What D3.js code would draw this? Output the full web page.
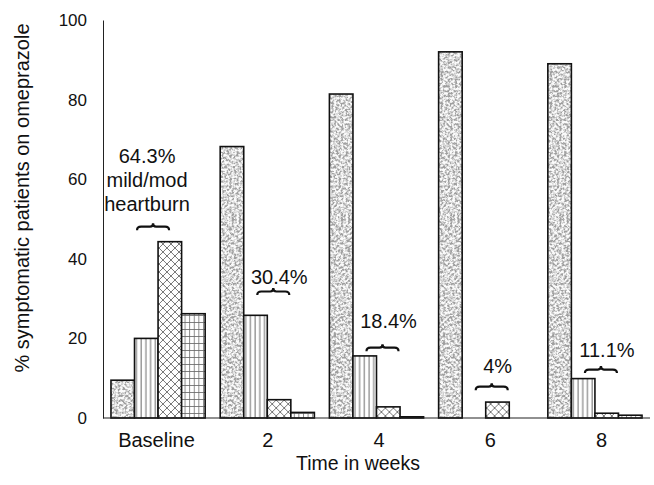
<!DOCTYPE html>
<html>
<head>
<meta charset="utf-8">
<script src="https://cdn.jsdelivr.net/npm/d3@7"></script>
<style>
  body { margin: 0; background: #fff; }
  svg { font-family: "Liberation Sans", Arial, sans-serif; }
</style>
</head>
<body>
<svg id="chart" width="654" height="485"></svg>
<script>
// data
var weeks = ["Baseline", "2", "4", "6", "8"];
var severity = ["none", "mild", "moderate", "severe"];
var noneVals = [9.5, 68.2, 81.4, 92.0, 89.0];
var mildVals = [20.0, 25.8, 15.6, 0, 9.9];
var moderateVals = [44.3, 4.6, 2.8, 4.0, 1.2];
var severeVals = [26.2, 1.4, 0.3, 0, 0.7];
var yTicks = [0, 20, 40, 60, 80, 100];
var noteTexts = [["64.3%", "mild/mod", "heartburn"], ["30.4%"], ["18.4%"], ["4%"], ["11.1%"]];
var braceLevels = [47.2, 30.9, 16.8, 7.0, 11.3];
var noteLevels = [52.0, 33.7, 22.6, 11.3, 15.3];

var svg = d3.select("#chart");
var width = 654, height = 485;

var rows = weeks.map(function (w, i) {
  return { week: w, values: [noneVals[i], mildVals[i], moderateVals[i], severeVals[i]] };
});

var x = d3.scaleBand().domain(weeks).range([103, 650]).paddingInner(0.1376).paddingOuter(0.073);
var xInner = d3.scaleBand().domain(severity).range([0, x.bandwidth()]);
var xLabel = d3.scalePoint().domain(weeks).range([156, 601]);
var y = d3.scaleLinear().domain([0, 100]).range([418, 20]);

// fills
var defs = svg.append("defs");

var filt = defs.append("filter").attr("id", "stipple")
  .attr("filterUnits", "userSpaceOnUse")
  .attr("x", 0).attr("y", 0).attr("width", width).attr("height", height);
filt.append("feTurbulence").attr("type", "fractalNoise").attr("baseFrequency", 0.42)
  .attr("numOctaves", 3).attr("seed", 11).attr("result", "noise");
filt.append("feColorMatrix").attr("in", "noise").attr("type", "matrix")
  .attr("values", "0 0 0 0 0.35  0 0 0 0 0.35  0 0 0 0 0.35  3.2 0 0 0 -1.15")
  .attr("result", "dots");
filt.append("feFlood").attr("flood-color", "#fbfbfb").attr("result", "white");
filt.append("feComposite").attr("in", "dots").attr("in2", "white").attr("operator", "over").attr("result", "tex");
filt.append("feComposite").attr("in", "tex").attr("in2", "SourceGraphic").attr("operator", "in");

var vl = defs.append("pattern").attr("id", "vlines").attr("patternUnits", "userSpaceOnUse")
  .attr("width", 4.7).attr("height", 10);
vl.append("rect").attr("width", 4.7).attr("height", 10).attr("fill", "#fff");
vl.append("line").attr("x1", 2).attr("x2", 2).attr("y1", 0).attr("y2", 10)
  .attr("stroke", "#555").attr("stroke-width", 0.9);

var cr = defs.append("pattern").attr("id", "cross").attr("patternUnits", "userSpaceOnUse")
  .attr("width", 8).attr("height", 8);
cr.append("rect").attr("width", 8).attr("height", 8).attr("fill", "#fff");
cr.append("path").attr("d", "M0,0L8,8M8,0L0,8M-1,7L1,9M7,-1L9,1M-1,1L1,-1M7,9L9,7")
  .attr("stroke", "#555").attr("stroke-width", 0.8).attr("fill", "none");

var gr = defs.append("pattern").attr("id", "grid").attr("patternUnits", "userSpaceOnUse")
  .attr("width", 4.6).attr("height", 7);
gr.append("rect").attr("width", 4.6).attr("height", 7).attr("fill", "#fff");
gr.append("path").attr("d", "M0.5,0V7M0,0.5H4.6")
  .attr("stroke", "#666").attr("stroke-width", 0.8).attr("fill", "none");

var fills = { none: "#000", mild: "url(#vlines)", moderate: "url(#cross)", severe: "url(#grid)" };

// bars
var groups = svg.append("g").selectAll("g").data(rows).join("g")
  .attr("transform", function (d) { return "translate(" + x(d.week) + ",0)"; });

var cells = groups.selectAll("g").data(function (d) {
  return d.values.map(function (v, k) { return { key: severity[k], value: v }; });
}).join("g");

cells.append("rect")
  .attr("x", function (d) { return xInner(d.key); })
  .attr("y", function (d) { return y(d.value); })
  .attr("width", xInner.bandwidth())
  .attr("height", function (d) { return y(0) - y(d.value); })
  .attr("fill", function (d) { return fills[d.key]; })
  .attr("filter", function (d) { return d.key == "none" ? "url(#stipple)" : null; });

cells.filter(function (d) { return d.value > 0; }).append("rect")
  .attr("x", function (d) { return xInner(d.key); })
  .attr("y", function (d) { return y(d.value); })
  .attr("width", xInner.bandwidth())
  .attr("height", function (d) { return y(0) - y(d.value); })
  .attr("fill", "none")
  .attr("stroke", "#111")
  .attr("stroke-width", 1.6);

// axes
svg.append("g")
  .attr("transform", "translate(103,0)")
  .call(d3.axisLeft(y).tickValues(yTicks).tickSize(0).tickPadding(16))
  .call(function (g) {
    g.select(".domain").attr("stroke", "#222");
    g.selectAll("text").attr("font-size", "17px").attr("fill", "#111")
      .attr("font-family", "Liberation Sans, Arial, sans-serif");
  });

svg.append("line").attr("x1", 103).attr("x2", 650).attr("y1", y(0)).attr("y2", y(0))
  .attr("stroke", "#222").attr("stroke-width", 1.2);

svg.append("g")
  .attr("transform", "translate(0," + y(0) + ")")
  .call(d3.axisBottom(xLabel).tickSize(0).tickPadding(15))
  .call(function (g) {
    g.select(".domain").remove();
    g.selectAll("text").attr("font-size", "20px").attr("fill", "#111")
      .attr("font-family", "Liberation Sans, Arial, sans-serif");
  });

svg.append("text").attr("x", 358).attr("y", 470).attr("text-anchor", "middle")
  .attr("font-size", "19.5px").attr("fill", "#111").text("Time in weeks");

svg.append("text").attr("transform", "translate(29,198) rotate(-90)")
  .attr("text-anchor", "middle").attr("font-size", "20px").attr("fill", "#111")
  .text("% symptomatic patients on omeprazole");

// braces and notes over the mild + moderate bars
function bracePath(cx, yb, w) {
  var x0 = cx - w / 2, x1 = cx + w / 2, m = yb - 3.5, t = yb - 7;
  return "M" + x0 + "," + yb + " Q" + x0 + "," + m + " " + (x0 + 4) + "," + m +
    " L" + (cx - 3) + "," + m + " Q" + cx + "," + m + " " + cx + "," + t +
    " Q" + cx + "," + m + " " + (cx + 3) + "," + m +
    " L" + (x1 - 4) + "," + m + " Q" + x1 + "," + m + " " + x1 + "," + yb;
}

var notes = svg.append("g");
rows.forEach(function (d, i) {
  var cx = x(d.week) + xInner("moderate") + (i === 0 ? -5 : 6);
  notes.append("path").attr("d", bracePath(cx, y(braceLevels[i]), 32))
    .attr("fill", "none").attr("stroke", "#111").attr("stroke-width", 2.2);
  var lines = noteTexts[i];
  var tx = i === 0 ? cx - 6 : cx + 6;
  lines.forEach(function (t, j) {
    notes.append("text")
      .attr("x", tx)
      .attr("y", y(noteLevels[i]) - (lines.length - 1 - j) * 24)
      .attr("text-anchor", "middle")
      .attr("font-size", "20px").attr("fill", "#111")
      .text(t);
  });
});
</script>
</body>
</html>
